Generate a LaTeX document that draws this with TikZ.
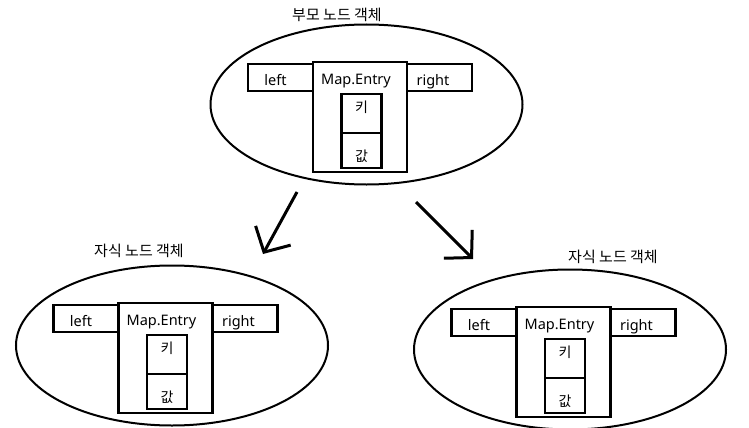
\documentclass[tikz,border=0pt]{standalone}
\usepackage{fontspec}
\setmainfont{Noto Sans}
\newfontfamily\kr{Noto Sans CJK KR}
\usetikzlibrary{shapes.geometric,arrows.meta,positioning}

\begin{document}
\begin{tikzpicture}[x=1pt,y=-1pt,
    box/.style={draw,line width=2.6pt,inner sep=0pt,outer sep=0pt},
    entrybox/.style={box,minimum width=94pt,minimum height=110pt},
    sidebox/.style={box,minimum width=65pt,minimum height=27pt},
    keybox/.style={box,minimum width=40pt,minimum height=39pt},
    valbox/.style={box,minimum width=40pt,minimum height=35pt},
    nodeell/.style={draw,ellipse,line width=2pt,minimum width=312pt,minimum height=160pt,inner sep=0pt},
    lbl/.style={anchor=base,inner sep=0pt,font=\fontsize{14.5}{17}\selectfont},
    klbl/.style={anchor=base,inner sep=0pt,font=\kr\fontsize{14}{17}\selectfont},
    title/.style={inner sep=0pt,font=\kr\fontsize{15}{18}\selectfont},
    arr/.style={line width=3pt,-{Straight Barb[length=19pt,width=40pt]}}]
  \useasboundingbox (0,0) rectangle (749,428);
  % one tree node: ellipse with the Map.Entry box inside
  \foreach \g/\ex/\ey/\tx/\ty/\ttl in {par/360/117/337/15/부모 노드 객체,
      cl/165.5/358/139/251/자식 노드 객체,
      cr/563.5/362/613/257/자식 노드 객체} {
    \node[entrybox] (\g-entry) at (\ex,\ey) {};
    \node[nodeell] (\g-ell) at ([xshift=6.5pt,yshift=12.5pt]\g-entry.center) {};
    \node[sidebox,anchor=north east] (\g-left) at ([yshift=-2pt]\g-entry.north west) {};
    \node[sidebox,anchor=north west] (\g-right) at ([yshift=-2pt]\g-entry.north east) {};
    \node[keybox,anchor=north] (\g-key) at ([xshift=1.5pt,yshift=-32pt]\g-entry.north) {};
    \node[valbox,below=0pt of \g-key] (\g-val) {};
    \node[lbl] (\g-entrytxt) at ([xshift=-4pt,yshift=-22pt]\g-entry.north) {Map.Entry};
    \node[lbl] (\g-lefttxt) at ([xshift=-5pt,yshift=-21pt]\g-left.north) {left};
    \node[lbl] (\g-righttxt) at ([xshift=-6.5pt,yshift=-21pt]\g-right.north) {right};
    \node[klbl] (\g-keytxt) at ([yshift=-18pt]\g-key.north) {키};
    \node[klbl] (\g-valtxt) at ([yshift=7pt]\g-val.south) {값};
    \node[title] (\g-title) at (\tx,\ty) {\ttl};
  }
  \coordinate (from-l) at (297,192);
  \coordinate (to-l) at (263,254);
  \coordinate (from-r) at (416,202);
  \coordinate (to-r) at (473,259);
  \draw[arr] (from-l) -- (to-l);
  \draw[arr] (from-r) -- (to-r);
\end{tikzpicture}
\end{document}
